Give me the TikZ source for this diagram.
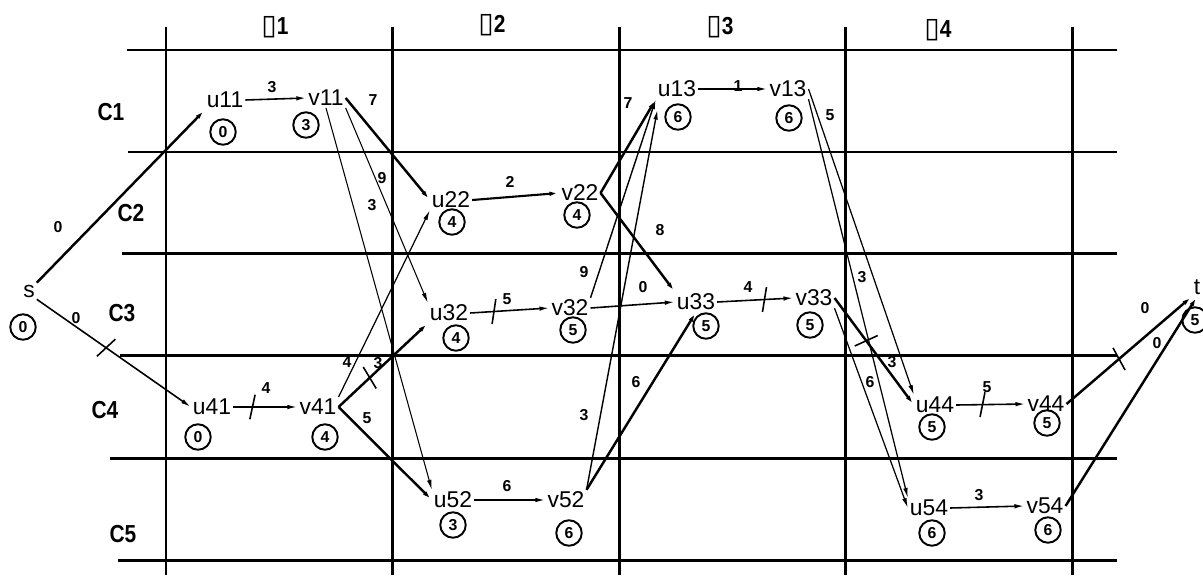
\documentclass[tikz,border=0pt]{standalone}
\usepackage{fontspec}
\setmainfont{Liberation Sans}
\newfontfamily\narrowfont[FakeStretch=0.85]{Liberation Sans}
\newfontfamily\symfont{DejaVu Sans}
\usetikzlibrary{arrows.meta,decorations.markings}

\tikzset{
  >={Latex[length=2mm,width=0.9mm]},
  grid/.style={line width=1.7pt},
  vtx/.style={font=\fontsize{13}{13}\selectfont,inner sep=1pt},
  est/.style={circle,draw,line width=1.1pt,inner sep=0pt,minimum size=14.5pt,
    font=\fontsize{9}{9}\selectfont\bfseries},
  wt/.style={font=\fontsize{9}{9}\selectfont\bfseries},
  hdr/.style={font=\narrowfont\fontsize{14}{14}\selectfont\bfseries},
  link/.style={->,line width=#1},
  link/.default=0.9pt,
  cutmark/.style={postaction={decorate,decoration={markings,
    mark=at position #1 with {\draw[-,line width=0.9pt] (-1.5pt,-7pt) -- (1.5pt,7pt);}}}},
}

\begin{document}
\begin{tikzpicture}[x=0.2mm,y=-0.2mm]
  \useasboundingbox (0,0) rectangle (1203,575);
  % grid of stages and rows
  \foreach \y/\x in {50/127,152/128,253/122,355/120,458/110,560/118}
    \draw[grid] (\x,\y) -- (1117,\y);
  \foreach \x in {166,392,619,845,1072}
    \draw[grid] (\x,27) -- (\x,575);
  \foreach \x/\y/\n in {275/27/1,492/25/2,720/27/3,938/30/4}
    \node[hdr] (st\n) at (\x,\y) {{\symfont\bfseries\fontsize{16}{16}\selectfont ▯}\n};
  \foreach \x/\y/\n in {111/112/1,131/213/2,122/313/3,105/410/4,123/534/5}
    \node[hdr] (c\n) at (\x,\y) {C\n};
  % vertices with their estimates
  \foreach \n/\x/\y/\cx/\cy/\e in {s/29/291/23/327/0,
      u11/225/100/223/132/0, v11/326/98/306/125/3,
      u22/451/200/452/222/4, v22/580/193/577/215/4,
      u32/449/313/456/338/4, v32/570/308/573/330/5,
      u13/677/89/678/117/6, v13/788/89/789/118/6,
      u33/696/302/706/326/5, v33/814/298/810/325/5,
      u41/212/407/198/437/0, v41/318/407/325/437/4,
      u52/453/500/453/525/3, v52/566/500/569/533/6,
      u44/935/405/932/427/5, v44/1046/404/1047/423/5,
      u54/929/508/932/533/6, v54/1045/506/1048/530/6,
      t/1197/287/1195/320/5}
  {
    \node[vtx] (\n) at (\x,\y) {\n};
    \node[est] (\n e) at (\cx,\cy) {\e};
  }
  % arcs
  \draw[link=1.4pt] (s.north east) -- (u11.south west) node[wt] at (58,227) {0};
  \draw[link,cutmark=0.45] (s.south east) -- (u41.west) node[wt] at (76,318) {0};
  \draw[link] (u11.east) -- (v11.west) node[wt] at (272,87) {3};
  \draw[link=1.4pt] (v11.east) -- (u22.west) node[wt] at (373,100) {7};
  \draw[link=0.6pt] (v11.south east) -- (u32.north west) node[wt] at (382,178) {9};
  \draw[link=0.6pt] (v11.south) -- (u52.north west) node[wt] at (372,205) {3};
  \draw[link,cutmark=0.3] (u41.east) -- (v41.west) node[wt] at (266,388) {4};
  \draw[link=0.7pt] (v41.north east) -- (u22.south west) node[wt] at (347,362) {4};
  \draw[link=1.4pt,cutmark=0.35] (v41.east) -- (u32.south west) node[wt] at (378,363) {3};
  \draw[link=1.4pt] (v41.east) -- (u52.west) node[wt] at (367,418) {5};
  \draw[link=1.2pt] (u22.east) -- (v22.west) node[wt] at (510,182) {2};
  \draw[link,cutmark=0.3] (u32.east) -- (v32.west) node[wt] at (507,299) {5};
  \draw[link] (u52.east) -- (v52.west) node[wt] at (507,486) {6};
  \draw[link=1.4pt] (v22.east) -- (u13.south west) node[wt] at (628,103) {7};
  \draw[link=1.4pt] (v22.east) -- (u33.north west) node[wt] at (660,230) {8};
  \draw[link=0.8pt] (v32.north east) -- (u13.south west) node[wt] at (584,272) {9};
  \draw[link] (v32.east) -- (u33.west) node[wt] at (643,287) {0};
  \draw[link=0.8pt,shorten >=6pt] (v52.north east) -- ([xshift=2pt]u13.south west) node[wt] at (584,415) {3};
  \draw[link=1.4pt] (v52.north east) -- (u33.south) node[wt] at (636,382) {6};
  \draw[link] (u13.east) -- (v13.west) node[wt] at (738,86) {1};
  \draw[link,cutmark=0.62] (u33.east) -- (v33.west) node[wt] at (748,287) {4};
  \draw[link=0.7pt] (v13.east) -- (u44.north west) node[wt] at (830,115) {5};
  \draw[link=0.7pt] (v13.south east) -- (u54.north west) node[wt] at (862,277) {3};
  \draw[link=1.4pt,cutmark=0.4] (v33.east) -- (u44.west) node[wt] at (892,362) {3};
  \draw[link=0.7pt] (v33.south east) -- (u54.west) node[wt] at (870,382) {6};
  \draw[link,cutmark=0.38] (u44.east) -- (v44.west) node[wt] at (987,387) {5};
  \draw[link] (u54.east) -- (v54.west) node[wt] at (979,495) {3};
  \draw[link=1.4pt,cutmark=0.42] (v44.east) -- (t.south west) node[wt] at (1145,308) {0};
  \draw[link=1.4pt] (v54.east) -- (t.south) node[wt] at (1157,343) {0};
\end{tikzpicture}
\end{document}
